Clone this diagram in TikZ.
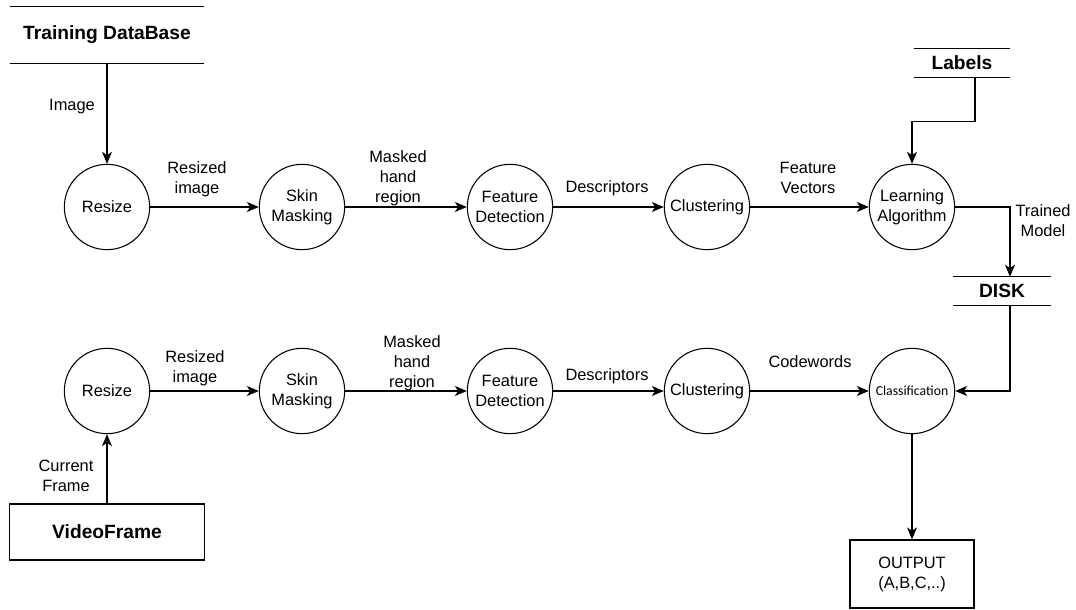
\documentclass[tikz,border=0pt]{standalone}
\usepackage{fontspec}
\setmainfont{Liberation Sans}
\newfontfamily\calibfont{Carlito}
\usepackage{tikz}
\usetikzlibrary{arrows.meta}

\def\txtsize{\fontsize{12.3}{15}\selectfont}
\def\boldsize{\bfseries\fontsize{14.4}{17}\selectfont}

\tikzset{
  proc/.style={draw,circle,line width=0.8pt,minimum size=64pt,inner sep=0pt,align=center,font=\txtsize},
  store/.style={inner sep=0pt,font=\boldsize},
  box/.style={draw,line width=0.8pt,inner sep=0pt,align=center},
  lbl/.style={inner sep=0pt,align=center,font=\txtsize},
  flow/.style={-{Stealth[length=9pt,width=7.5pt,inset=2.5pt]},line width=0.9pt},
  rule/.style={line width=0.9pt},
}

\begin{document}
\begin{tikzpicture}[x=0.75pt,y=-0.75pt]
\fill[white] (0,0) rectangle (1076,610);
\useasboundingbox (0,0) rectangle (1076,610);

% data stores
\node[store,minimum width=145.5pt,minimum height=42pt] (train) at (107,35) {Training DataBase};
\draw[rule] (train.north west) -- (train.north east);
\draw[rule] (train.south west) -- (train.south east);
\node[store,minimum width=72pt,minimum height=21pt] (labels) at (962,63) {Labels};
\draw[rule] (labels.north west) -- (labels.north east);
\draw[rule] (labels.south west) -- (labels.south east);
\node[store,minimum width=72.75pt,minimum height=21pt] (disk) at (1002,291) {DISK};
\draw[rule] (disk.north west) -- (disk.north east);
\draw[rule] (disk.south west) -- (disk.south east);

% training row
\node[proc] (resize1) at (107,207) {Resize};
\node[proc] (skin1) at (302,207) {Skin\\Masking};
\node[proc] (feat1) at (510,207) {Feature\\Detection};
\node[proc] (clus1) at (707,207) {Clustering};
\node[proc] (learn) at (912,207) {Learning\\Algorithm};

% testing row
\node[proc] (resize2) at (107,391) {Resize};
\node[proc] (skin2) at (302,391) {Skin\\Masking};
\node[proc] (feat2) at (510,391) {Feature\\Detection};
\node[proc] (clus2) at (707,391) {Clustering};
\node[proc] (classif) at (912,391) {\calibfont\fontsize{10.3}{12}\selectfont Classification};

\node[box,minimum width=146.25pt,minimum height=42pt,font=\boldsize] (video) at (107,532) {VideoFrame};
\node[box,minimum width=93pt,minimum height=51pt,font=\txtsize] (output) at (912,574) {OUTPUT\\(A,B,C,..)};

% connectors
\draw[flow] (train.south) -- (resize1.north);
\draw[flow] (resize1) -- (skin1);
\draw[flow] (skin1) -- (feat1);
\draw[flow] (feat1) -- (clus1);
\draw[flow] (clus1) -- (learn);
\draw[flow] ([xshift=9.75pt]labels.south) -- ++(0,44) -| (learn.north);
\draw[flow] (learn.east) -| ([xshift=6pt]disk.north);
\draw[flow] ([xshift=6pt]disk.south) |- (classif.east);
\draw[flow] (video.north) -- (resize2.south);
\draw[flow] (resize2) -- (skin2);
\draw[flow] (skin2) -- (feat2);
\draw[flow] (feat2) -- (clus2);
\draw[flow] (clus2) -- (classif);
\draw[flow] (classif.south) -- (output.north);

% labels
\node[lbl] (lblimg) at (72,107) {Image};
\node[lbl] (lblres1) at (197,179) {Resized\\image};
\node[lbl] (lblmask1) at (398,178) {Masked\\hand\\region};
\node[lbl] (lbldesc1) at (607,188) {Descriptors};
\node[lbl] (lblvec) at (808,178) {Feature\\Vectors};
\node[lbl] (lbltrained) at (1043,221) {Trained\\Model};
\node[lbl] (lblres2) at (195,368) {Resized\\image};
\node[lbl] (lblmask2) at (412,363) {Masked\\hand\\region};
\node[lbl] (lbldesc2) at (607,376) {Descriptors};
\node[lbl] (lblcode) at (810,362) {Codewords};
\node[lbl] (lblcur) at (66,476) {Current\\Frame};
\end{tikzpicture}
\end{document}
